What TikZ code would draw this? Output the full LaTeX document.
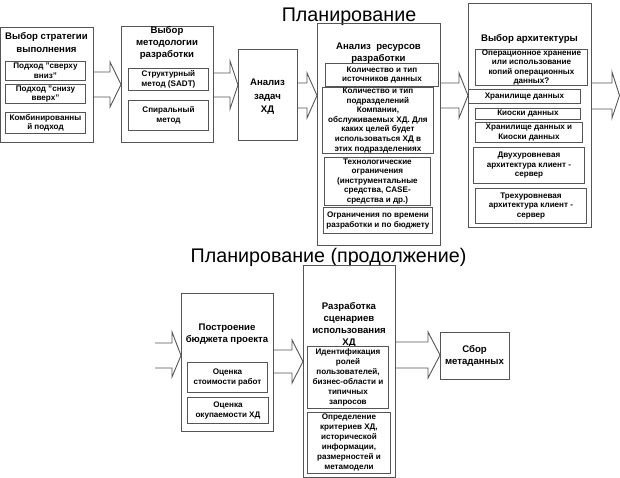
\documentclass[tikz,border=0pt]{standalone}
\usepackage{fontspec}
\setmainfont{Liberation Sans}
\usetikzlibrary{calc}
\definecolor{linegray}{HTML}{555555}
\newcommand\bbox[7]{\node[#2, anchor=north west, minimum width={(#5)-(#3)}, minimum height={(#6)-(#4)}] (#1) at (#3,#4) {#7};}
\newcommand\barrow[8]{\draw[arr] (#1 |- 0,#4) -- (#8,#4) -- (#8,#6) -- (#2 |- 0,#3) -- (#8,#7) -- (#8,#5) -- (#1 |- 0,#5);}
\begin{document}
\begin{tikzpicture}[x=1pt,y=-1pt,
  frame/.style={draw=linegray, line width=0.9pt, inner sep=0pt},
  sub/.style={frame, align=center, font=\bfseries\fontsize{8.1}{9.6}\selectfont},
  subw/.style={sub, font=\bfseries\fontsize{8.1}{10}\selectfont},
  ttl/.style={align=center, inner sep=0pt, font=\bfseries\fontsize{9.6}{12}\selectfont},
  big/.style={inner sep=0pt, font=\fontsize{19.7}{24}\selectfont},
  arr/.style={draw=linegray, line width=0.9pt, line join=miter}]
\useasboundingbox[fill=white] (0,0) rectangle (620,478);

% titles
\node[big, anchor=base] (t1) at (349,22) {Планирование};
\node[big, anchor=base] (t2) at (328.5,262) {Планирование (продолжение)};

% box 1
\bbox{s1}{frame}{0}{27}{93}{142}{}
\node[ttl, font=\bfseries\fontsize{9.6}{13}\selectfont] (s1t) at (46.5,43) {Выбор стратегии\\выполнения};
\bbox{s1a}{sub}{5}{61}{85}{80}{Подход "сверху\\вниз"}
\bbox{s1b}{sub}{5}{84}{85}{103}{Подход "снизу\\вверх"}
\bbox{s1c}{sub}{5}{112}{85}{133}{Комбинированны\\й подход}

% box 2
\bbox{s2}{frame}{121}{26}{213}{142}{}
\node[ttl] (s2t) at (167,43) {Выбор\\методологии\\разработки};
\bbox{s2a}{sub}{128}{68}{208}{90}{Структурный\\метод (SADT)}
\bbox{s2b}{sub}{128}{100}{208}{130}{Спиральный\\метод}

% box 3
\bbox{s3}{frame}{238}{49}{297}{140}{}
\node[ttl, font=\bfseries\fontsize{9.6}{13.5}\selectfont] (s3t) at (267.5,97) {Анализ\\задач\\ХД};

% box 4
\bbox{s4}{frame}{317}{23}{440}{245}{}
\node[ttl] (s4t) at (378.5,53) {Анализ~ ресурсов\\разработки};
\bbox{s4a}{sub}{325}{63}{438}{86}{Количество и тип\\источников данных}
\bbox{s4b}{sub}{322}{87}{433}{153}{Количество и тип\\подразделений\\Компании,\\обслуживаемых ХД. Для\\каких целей будет\\использоваться ХД в\\этих подразделениях}
\bbox{s4c}{sub}{324}{157}{430}{205}{Технологические\\ограничения\\(инструментальные\\средства, CASE-\\средства и др.)}
\bbox{s4d}{sub}{323}{207}{432}{233}{Ограничения по времени\\разработки и по бюджету}

% box 5
\bbox{s5}{frame}{468}{3}{591}{227}{}
\node[ttl] (s5t) at (529.5,39) {Выбор архитектуры};
\bbox{s5a}{sub}{475}{49}{587}{83}{Операционное хранение\\или использование\\копий операционных\\данных?}
\bbox{s5b}{sub}{468}{89}{580}{103}{Хранилище данных}
\bbox{s5c}{sub}{475}{108}{580}{119}{Киоски данных}
\bbox{s5d}{sub}{475}{122}{582}{142}{Хранилище данных и\\Киоски данных}
\bbox{s5e}{sub}{473}{147}{584}{183}{Двухуровневая\\архитектура клиент -\\сервер}
\bbox{s5f}{sub}{475}{188}{586}{223}{Трехуровневая\\архитектура клиент -\\сервер}
\coordinate (e5) at (619.5,95.5);

% box 6
\coordinate (in6) at (155,355.5);
\bbox{s6}{frame}{181}{293}{273}{431}{}
\node[ttl] (s6t) at (227,334) {Построение\\бюджета проекта};
\bbox{s6a}{sub}{187}{362}{267}{392}{Оценка\\стоимости работ}
\bbox{s6b}{sub}{187}{397}{268}{423}{Оценка\\окупаемости ХД}

% box 7
\bbox{s7}{frame}{303}{265}{395}{477}{}
\node[ttl] (s7t) at (349,325) {Разработка\\сценариев\\использования\\ХД};
\bbox{s7a}{subw}{307}{346}{388}{408}{Идентификация\\ролей\\пользователей,\\бизнес-области и\\типичных\\запросов}
\bbox{s7b}{subw}{307}{412}{390}{473}{Определение\\критериев ХД,\\исторической\\информации,\\размерностей и\\метамодели}

% box 8
\bbox{s8}{frame}{440}{332}{509}{379}{}
\node[ttl] (s8t) at (474.5,356) {Сбор\\метаданных};

% block arrows
\barrow{s1.east}{s2.west}{84.5}{72}{97}{62}{107}{110}
\barrow{s2.east}{s3.west}{85}{73}{97}{61}{109}{230}
\barrow{s3.east}{s4.west}{95.5}{83}{108}{73}{118}{307}
\barrow{s4.east}{s5.west}{95.5}{83}{108}{73}{118}{459}
\barrow{s5.east}{e5}{95.5}{83}{109}{72}{118}{612}
\barrow{in6}{s6.west}{355.5}{343}{368}{332}{377}{172}
\barrow{s6.east}{s7.west}{361.5}{350}{373}{340}{383}{292}
\barrow{s7.east}{s8.west}{355}{342}{368}{332}{378}{428}
\end{tikzpicture}
\end{document}
